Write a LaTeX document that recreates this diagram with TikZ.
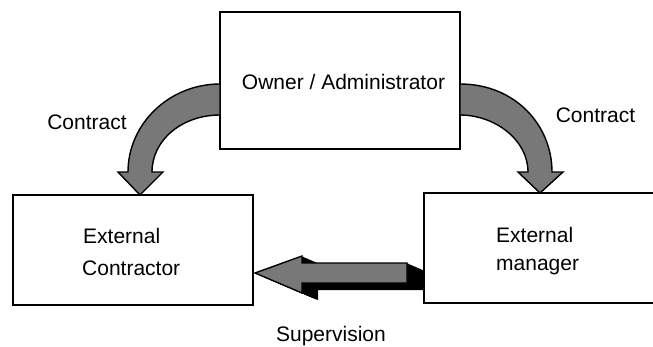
\documentclass[tikz,border=0pt]{standalone}
\usepackage{fontspec}
\setmainfont{Liberation Sans}
\definecolor{arrowgray}{RGB}{120,120,120}
\begin{document}
\begin{tikzpicture}[x=1pt,y=-1pt,
  box/.style={draw=black,line width=1.6pt,inner sep=0pt,minimum width=240pt},
  lbl/.style={inner sep=0pt,font=\fontsize{21}{25}\selectfont},
  bigarrow/.style={fill=arrowgray,draw=black,line width=1.4pt,line join=miter}]
\useasboundingbox (0,0) rectangle (653,346);
\clip (0,0) rectangle (653,346);
% boxes
\node[box,minimum height=137pt] (owner) at (340,80.5) {};
\node[box,minimum height=110pt] (contractor) at (133,250) {};
\node[box,minimum height=110pt,minimum width=260pt] (manager) at (554,248) {};
% texts
\node[lbl,anchor=base] (ownert) at (343.5,89) {Owner / Administrator};
\node[lbl,anchor=base] (c1) at (87,129) {Contract};
\node[lbl,anchor=base] (c2) at (595.5,122) {Contract};
\node[lbl,anchor=base west] (ec1) at (83,243) {External};
\node[lbl,anchor=base west] (ec2) at (82,275) {Contractor};
\node[lbl,anchor=base west] (em1) at (496,242) {External};
\node[lbl,anchor=base west] (em2) at (496,270) {manager};
\node[lbl,anchor=base] (sup) at (331,341) {Supervision};
% left curved arrow
\draw[bigarrow] (220,84) .. controls (169,84) and (128,124) .. (128,172)
  -- (118,172) -- (140,195) -- (163,172) -- (152,172)
  .. controls (152,140) and (182,115) .. (220,115) -- cycle;
% right curved arrow
\draw[bigarrow] (460,84) .. controls (515,84) and (552,125) .. (552,172)
  -- (563,172) -- (540,193) -- (518,172) -- (528,172)
  .. controls (528,140) and (495,115) .. (460,115) -- cycle;
% horizontal arrow with shadow
\def\harrow{(255,273) -- (302,256) -- (302,263) -- (407,263) -- (407,283) -- (302,283) -- (302,293) -- cycle}
\foreach \i in {0,...,16}{
  \fill[black,shift={(\i,\i*7/16)}] \harrow;
}
\draw[bigarrow] \harrow;
\end{tikzpicture}
\end{document}
